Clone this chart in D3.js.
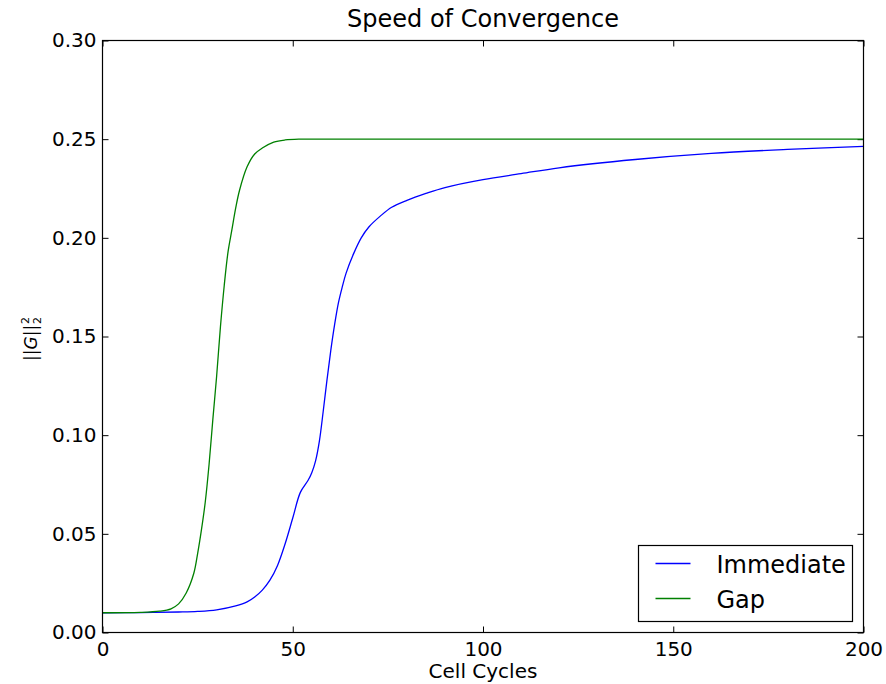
<!DOCTYPE html>
<html>
<head>
<meta charset="utf-8">
<script src="https://cdn.jsdelivr.net/npm/d3@7"></script>
<style>
  body { margin: 0; background: #fff; }
  text { font-family: "DejaVu Sans", sans-serif; fill: #000; }
</style>
</head>
<body>
<div id="chart"></div>
<script>
const svgWidth = 886;
const svgHeight = 684;

const margin = { top: 40.5, right: 22.5, bottom: 51.5, left: 102.5 };
const width = svgWidth - margin.left - margin.right;
const height = svgHeight - margin.top - margin.bottom;

// data
const gapX = [0, 10, 15, 18, 20, 22, 24, 25, 26, 27, 28, 29, 30, 31, 32, 33, 34, 35, 36, 38, 40, 42, 45, 48, 52, 60, 200];
const gapY = [0.010, 0.0102, 0.0108, 0.012, 0.0145, 0.020, 0.030, 0.040, 0.052, 0.066, 0.085, 0.108, 0.130, 0.155, 0.176, 0.193, 0.204, 0.215, 0.224, 0.236, 0.2425, 0.2455, 0.2485, 0.2496, 0.2500, 0.2500, 0.2500];

const immX = [0, 10, 20, 25, 30, 35, 38, 40, 42, 44, 46, 48, 50, 52, 54, 55, 56, 57, 58, 59, 60, 61, 62, 63, 64, 66, 68, 70, 73, 76, 80, 85, 90, 100, 110, 120, 140, 160, 180, 200];
const immY = [0.010, 0.0101, 0.0104, 0.0107, 0.0115, 0.0135, 0.0155, 0.018, 0.0215, 0.0265, 0.034, 0.045, 0.058, 0.071, 0.077, 0.081, 0.087, 0.097, 0.112, 0.128, 0.143, 0.156, 0.167, 0.175, 0.182, 0.192, 0.200, 0.2055, 0.211, 0.2155, 0.219, 0.2225, 0.2255, 0.2295, 0.2325, 0.2355, 0.2397, 0.2428, 0.2448, 0.2463];

const xTicks = [0, 50, 100, 150, 200];
const yTicks = [0.00, 0.05, 0.10, 0.15, 0.20, 0.25, 0.30];

const seriesNames = ["Immediate", "Gap"];
const seriesColors = ["#0000ff", "#008000"];

const svg = d3.select("#chart")
  .append("svg")
  .attr("width", svgWidth)
  .attr("height", svgHeight);

const chartGroup = svg.append("g")
  .attr("transform", `translate(${margin.left}, ${margin.top})`);

const xScale = d3.scaleLinear().domain([0, 200]).range([0, width]);
const yScale = d3.scaleLinear().domain([0, 0.30]).range([height, 0]);

// axes, ticks point inward like matplotlib
const bottomAxis = d3.axisBottom(xScale).tickValues(xTicks).tickSizeInner(-6).tickSizeOuter(0).tickPadding(9);
const leftAxis = d3.axisLeft(yScale).tickValues(yTicks).tickSizeInner(-6).tickSizeOuter(0).tickPadding(6)
  .tickFormat(d3.format(".2f"));
const topAxis = d3.axisTop(xScale).tickValues(xTicks).tickSizeInner(-6).tickSizeOuter(0).tickFormat("");
const rightAxis = d3.axisRight(yScale).tickValues(yTicks).tickSizeInner(-6).tickSizeOuter(0).tickFormat("");

function styleAxis(g) {
  g.select(".domain").remove();
  g.selectAll(".tick line").attr("stroke", "#000").attr("stroke-width", 1);
  g.selectAll(".tick text").attr("font-size", 20).attr("font-family", "DejaVu Sans").attr("fill", "#000");
}

chartGroup.append("g").attr("transform", `translate(0, ${height})`).call(bottomAxis).call(styleAxis);
chartGroup.append("g").call(leftAxis).call(styleAxis);
chartGroup.append("g").call(topAxis).call(styleAxis);
chartGroup.append("g").attr("transform", `translate(${width}, 0)`).call(rightAxis).call(styleAxis);

// lines
const line = d3.line()
  .x(d => xScale(d[0]))
  .y(d => yScale(d[1]))
  .curve(d3.curveCatmullRom.alpha(0.5));

const series = [
  d3.zip(immX, immY),
  d3.zip(gapX, gapY)
];

chartGroup.selectAll("path.series")
  .data(series)
  .enter()
  .append("path")
  .attr("class", "series")
  .attr("d", line)
  .attr("fill", "none")
  .attr("stroke", (d, i) => seriesColors[i])
  .attr("stroke-width", 1.3);

// frame
chartGroup.append("rect")
  .attr("x", 0).attr("y", 0)
  .attr("width", width).attr("height", height)
  .attr("fill", "none")
  .attr("stroke", "#000")
  .attr("stroke-width", 1.2);

// title and labels
svg.append("text")
  .attr("x", margin.left + width / 2)
  .attr("y", 27)
  .attr("text-anchor", "middle")
  .attr("font-size", 24)
  .text("Speed of Convergence");

svg.append("text")
  .attr("x", margin.left + width / 2)
  .attr("y", 678)
  .attr("text-anchor", "middle")
  .attr("font-size", 20)
  .text("Cell Cycles");

// y label: ||G||_2^2
const yLab = svg.append("g")
  .attr("transform", "translate(37, 339) rotate(-90)");
const yText = yLab.append("text")
  .attr("x", -22)
  .attr("y", 0)
  .attr("font-size", 17);
yText.append("tspan").text("||");
yText.append("tspan").attr("font-style", "italic").text("G");
yText.append("tspan").text("||");
const base = yText.node().getComputedTextLength();
yLab.append("text").attr("x", -22 + base + 1).attr("y", -8).attr("font-size", 11).text("2");
yLab.append("text").attr("x", -22 + base + 1).attr("y", 4).attr("font-size", 11).text("2");

// legend
const legend = svg.append("g").attr("transform", "translate(638.5, 545.5)");
legend.append("rect")
  .attr("width", 214).attr("height", 76)
  .attr("fill", "#fff")
  .attr("stroke", "#000")
  .attr("stroke-width", 1.2);

seriesNames.forEach((name, i) => {
  const y = 18 + i * 35;
  legend.append("line")
    .attr("x1", 17).attr("x2", 52)
    .attr("y1", y).attr("y2", y)
    .attr("stroke", seriesColors[i])
    .attr("stroke-width", 1.3);
  legend.append("text")
    .attr("x", 78)
    .attr("y", y + 9)
    .attr("font-size", 24)
    .text(name);
});
</script>
</body>
</html>
